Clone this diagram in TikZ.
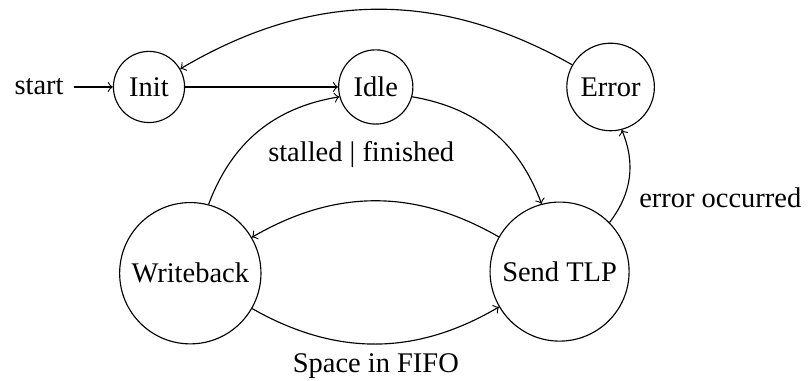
\documentclass[tikz,border=0pt]{standalone}
\usepackage{fontspec}
\setmainfont{Liberation Serif}
\usetikzlibrary{automata}

\begin{document}
\begin{tikzpicture}[->, >=to, initial text=start]
\useasboundingbox (-1.84,1.074) rectangle (8.15,-3.63);
\node[state, initial] (init) at (0,0) {Init};
\node[state] (idle) at (2.8,0) {Idle};
\node[state] (error) at (5.7,0) {Error};
\node[state] (wb) at (0.51,-2.3) {Writeback};
\node[state] (tlp) at (5.07,-2.28) {Send TLP};

\draw (init) edge (idle);
\draw (error) edge[bend right=30] (init);
\draw (idle) edge[bend left=30] (tlp);
\draw (wb) edge[bend left=30] node[below right] {stalled | finished} (idle);
\draw (tlp) edge[bend right=30] (wb);
\draw (wb) edge[bend right=30] node[below] {Space in FIFO} (tlp);
\draw (tlp) edge[bend right=30] node[below right] {error occurred} (error);
\end{tikzpicture}
\end{document}
